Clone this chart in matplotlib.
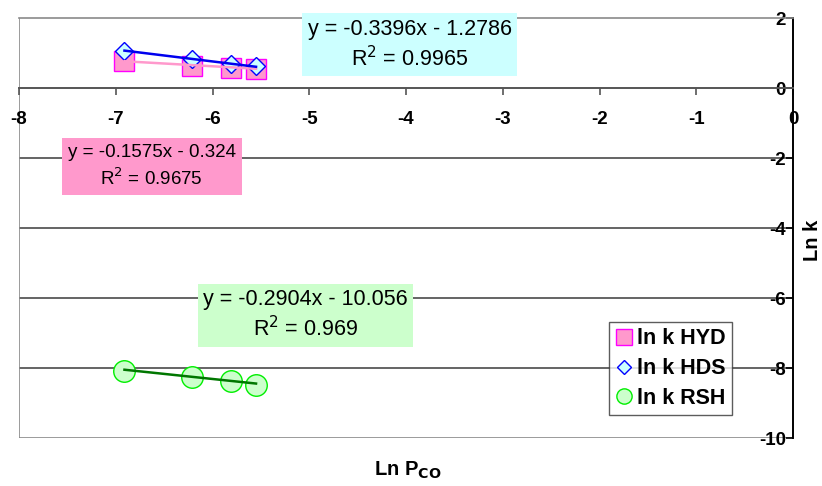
import matplotlib
matplotlib.use("Agg")
import matplotlib.pyplot as plt
from matplotlib.lines import Line2D
import numpy as np

plt.rcParams['font.family'] = ['Liberation Sans', 'DejaVu Sans']

# ---- data ----
ln_pco = [-6.91, -6.21, -5.81, -5.55]
lnk_hyd = [0.77, 0.64, 0.58, 0.55]
lnk_hds = [1.07, 0.82, 0.69, 0.62]
lnk_rsh = [-8.08, -8.27, -8.36, -8.49]

series_names = ["ln k HYD", "ln k HDS", "ln k RSH"]
fit_slopes = [-0.1575, -0.3396, -0.2904]
fit_intercepts = [-0.324, -1.2786, -10.056]
fit_r2 = ["0.9675", "0.9965", "0.969"]
fit_eq_text = ["y = -0.1575x - 0.324", "y = -0.3396x - 1.2786", "y = -0.2904x - 10.056"]

x_ticks = [-8, -7, -6, -5, -4, -3, -2, -1, 0]
y_ticks = [-10, -8, -6, -4, -2, 0, 2]

# ---- figure ----
fig = plt.figure(figsize=(8.22, 4.86), dpi=100)
ax = fig.add_axes([19/822, 1-438/486, (793-19)/822, (438-18)/486])
ax.set_xlim(-8, 0)
ax.set_ylim(-10, 2)

grid_col = '#3a3a3a'
border_col = '#8a8a8a'
for yv in [-2, -4, -6, -8]:
    ax.axhline(yv, color=grid_col, lw=1.1, zorder=1)
ax.axhline(-10, color=border_col, lw=1.2, zorder=1)
ax.axvline(-8, color=border_col, lw=1.2, zorder=1)

# spines
ax.spines['right'].set_visible(False)
ax.spines['top'].set_color(border_col)
ax.spines['top'].set_linewidth(1.2)
ax.spines['left'].set_position(('data', 0))
ax.spines['left'].set_color('black')
ax.spines['left'].set_linewidth(1.4)
ax.spines['bottom'].set_position(('data', 0))
ax.spines['bottom'].set_color('#555555')
ax.spines['bottom'].set_linewidth(1.4)

ax.set_xticks(x_ticks)
ax.set_xticklabels([str(t) for t in x_ticks], fontsize=13.5, fontweight='bold')
ax.set_yticks(y_ticks)
ax.set_yticklabels([str(t) for t in y_ticks], fontsize=13.5, fontweight='bold')
ax.tick_params(axis='x', direction='out', length=5, width=1.2, color='#555555', pad=11.5)
ax.tick_params(axis='y', direction='out', length=5, width=1.2, color='black', pad=0)

# markers
ax.plot(ln_pco, lnk_hyd, ls='none', marker='s', ms=14, mfc='#FF99CC', mec='#FF00FF', mew=1.0, zorder=3)
ax.plot(ln_pco, lnk_hds, ls='none', marker='D', ms=9.5, mfc='#CCFFFF', mec='#0000FF', mew=1.0, zorder=4)
ax.plot(ln_pco, lnk_rsh, ls='none', marker='o', ms=15.5, mfc='#CCFFCC', mec='#00EE00', mew=1.0, zorder=3)

# trendlines
xs = np.array([min(ln_pco), max(ln_pco)])
line_cols = ['#FF99CC', '#0000EE', '#007700']
for m, b, c in zip(fit_slopes, fit_intercepts, line_cols):
    ax.plot(xs, m * xs + b, color=c, lw=1.8, zorder=5)

# equation boxes
box_pos = [(-6.63, -2.24), (-3.96, 1.23), (-5.04, -6.5)]
box_cols = ['#FF99CC', '#CCFFFF', '#CCFFCC']
box_fs = [13.5, 15.5, 15.5]
box_pad = [0.32, 0.25, 0.25]
box_ls = [1.4, 1.3, 1.3]
for (bx, by), eq, r2, bc, fs, pd, ls in zip(box_pos, fit_eq_text, fit_r2, box_cols, box_fs, box_pad, box_ls):
    ax.text(bx, by, eq + "\n" + r"R$^2$ = " + r2, ha='center', va='center',
            multialignment='center', fontsize=fs, linespacing=ls,
            bbox=dict(boxstyle='square,pad=%.2f' % pd, fc=bc, ec='none'), zorder=6)

# axis labels
fig.text(408/822, 1-470/486, r"Ln P$_\mathbf{CO}$", ha='center', va='center',
         fontsize=14.5, fontweight='bold')
fig.text(812/822, 1-240/486, "Ln k", ha='center', va='center', rotation=90,
         fontsize=14.5, fontweight='bold')

# legend
handles = [
    Line2D([], [], ls='none', marker='s', ms=11, mfc='#FF99CC', mec='#FF00FF', mew=1.0),
    Line2D([], [], ls='none', marker='D', ms=7.5, mfc='#CCFFFF', mec='#0000FF', mew=1.0),
    Line2D([], [], ls='none', marker='o', ms=11, mfc='#CCFFCC', mec='#00EE00', mew=1.0),
]
leg = ax.legend(handles, series_names, loc='upper left',
                bbox_to_anchor=(609/822, 1-322/486), bbox_transform=fig.transFigure,
                prop={'weight': 'bold', 'size': 15.5}, frameon=True, fancybox=False,
                edgecolor='#333333', handlelength=0.8, handletextpad=0.2,
                borderpad=0.3, labelspacing=0.4, borderaxespad=0)
leg.get_frame().set_linewidth(1.0)
leg.set_zorder(7)

fig.savefig("out.png", dpi=100)
